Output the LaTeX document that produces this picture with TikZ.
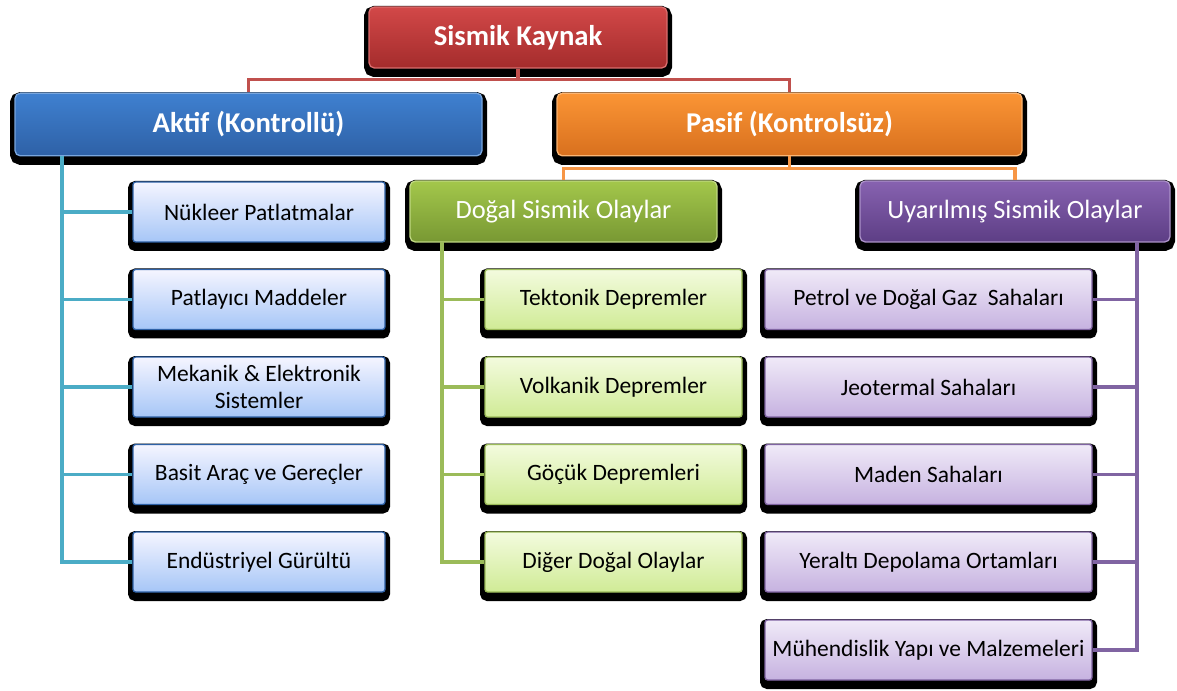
\documentclass[tikz,border=0pt]{standalone}
\usepackage{fontspec}
\setmainfont{Carlito}
\definecolor{redtop}{HTML}{D24848}
\definecolor{redbot}{HTML}{A42C2C}
\definecolor{bluetop}{HTML}{3F80D0}
\definecolor{bluebot}{HTML}{2E61A6}
\definecolor{orangetop}{HTML}{FB9535}
\definecolor{orangebot}{HTML}{D8701E}
\definecolor{greentop}{HTML}{A3C74B}
\definecolor{greenbot}{HTML}{789833}
\definecolor{purpletop}{HTML}{8762B0}
\definecolor{purplebot}{HTML}{5D3E85}
\definecolor{redline}{HTML}{C0504D}
\definecolor{cyanline}{HTML}{4BACC6}
\definecolor{orangeline}{HTML}{F79646}
\definecolor{greenline}{HTML}{9BBB59}
\definecolor{purpleline}{HTML}{8064A2}
\begin{document}
\begin{tikzpicture}[x=0.75pt,y=-0.75pt,
  box/.style={rounded corners=4pt,align=center,inner sep=2pt,line width=1pt,
    preaction={draw=black,fill=black,line width=7.5pt,transform canvas={yshift=-3pt}}},
  head/.style={box,text=white,font=\fontsize{21.5}{25}\selectfont\bfseries,minimum height=47pt},
  sub/.style={box,text=white,font=\fontsize{19.8}{23}\selectfont,minimum height=45.75pt},
  kid/.style={box,text=black,font=\fontsize{17.6}{20}\selectfont,minimum height=45pt,rounded corners=2pt},
  bluekid/.style={kid,draw=bluebot,top color=blue!4!white,bottom color={rgb,255:red,166;green,198;blue,247},minimum width=189pt},
  greenkid/.style={kid,draw=greenline,top color={rgb,255:red,243;green,251;blue,222},bottom color={rgb,255:red,208;green,235;blue,150},minimum width=192.75pt},
  purplekid/.style={kid,draw=purpleline,top color={rgb,255:red,240;green,234;blue,248},bottom color={rgb,255:red,198;green,178;blue,224},minimum width=245.25pt},
  link/.style={line width=2.4pt}]
\useasboundingbox (0,0) rectangle (1177,691);
\node[head,draw=redtop!80!white,top color=redtop,bottom color=redbot,minimum width=223.5pt,minimum height=45.75pt] (root) at (518,37.5) {Sismik Kaynak};
\node[head,draw=bluetop!70!white,top color=bluetop,bottom color=bluebot,minimum width=350.25pt] (aktif) at (248.5,124.5) {Aktif (Kontrollü)};
\node[head,draw=orangetop!70!white,top color=orangetop,bottom color=orangebot,minimum width=348.75pt] (pasif) at (789.5,124.5) {Pasif (Kontrolsüz)};
\node[sub,draw=greentop!70!white,top color=greentop,bottom color=greenbot,minimum width=230.25pt] (dogal) at (563.5,211.5) {Doğal Sismik Olaylar};
\node[sub,draw=purpletop!70!white,top color=purpletop,bottom color=purplebot,minimum width=232.5pt] (uyar) at (1015,211.5) {Uyarılmış Sismik Olaylar};
\node[bluekid] (a1) at (259,212) {Nükleer Patlatmalar};
\node[bluekid] (a2) at (259,299.5) {Patlayıcı Maddeler};
\node[bluekid] (a3) at (259,387) {Mekanik \& Elektronik\\Sistemler};
\node[bluekid] (a4) at (259,474.5) {Basit Araç ve Gereçler};
\node[bluekid] (a5) at (259,562) {Endüstriyel Gürültü};
\node[greenkid] (d1) at (613.5,299.5) {Tektonik Depremler};
\node[greenkid] (d2) at (613.5,387) {Volkanik Depremler};
\node[greenkid] (d3) at (613.5,474.5) {Göçük Depremleri};
\node[greenkid] (d4) at (613.5,562) {Diğer Doğal Olaylar};
\node[purplekid] (u1) at (928.5,299.5) {Petrol ve Doğal Gaz\ \ Sahaları};
\node[purplekid] (u2) at (928.5,387) {Jeotermal Sahaları};
\node[purplekid] (u3) at (928.5,474.5) {Maden Sahaları};
\node[purplekid] (u4) at (928.5,562) {Yeraltı Depolama Ortamları};
\node[purplekid] (u5) at (928.5,650) {Mühendislik Yapı ve Malzemeleri};
\coordinate (atop) at (62,156);
\coordinate (dtop) at (442,242);
\coordinate (utop) at (1137,242);
\draw[link,redline] (root.south) -- ++(0,11) -| (aktif.north);
\draw[link,redline] (root.south) -- ++(0,11) -| (pasif.north);
\draw[link,orangeline] (pasif.south) -- ++(0,12) -| (dogal.north);
\draw[link,orangeline] (pasif.south) -- ++(0,12) -| (uyar.north);
\draw[link,cyanline] (atop) |- (a5.west);
\foreach \k in {1,...,4}
  \draw[link,cyanline] (atop |- a\k.west) -- (a\k.west);
\draw[link,greenline] (dtop) |- (d4.west);
\foreach \k in {1,...,3}
  \draw[link,greenline] (dtop |- d\k.west) -- (d\k.west);
\draw[link,purpleline] (utop) |- (u5.east);
\foreach \k in {1,...,4}
  \draw[link,purpleline] (utop |- u\k.east) -- (u\k.east);
\end{tikzpicture}
\end{document}
